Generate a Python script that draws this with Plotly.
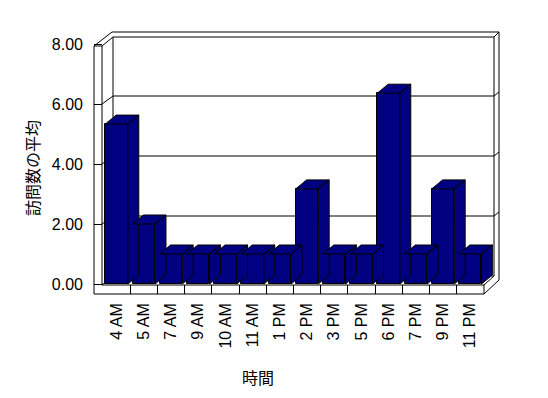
import plotly.graph_objects as go

# ---- data ----
categories = ["4 AM", "5 AM", "7 AM", "9 AM", "10 AM", "11 AM", "1 PM",
              "2 PM", "3 PM", "5 PM", "6 PM", "7 PM", "9 PM", "11 PM"]
values = [5.33, 2.0, 1.0, 1.0, 1.0, 1.0, 1.0, 3.17, 1.0, 1.0, 6.36, 1.0, 3.17, 1.0]
y_ticks = [0, 2, 4, 6, 8]
y_ticklabels = ["0.00", "2.00", "4.00", "6.00", "8.00"]
x_title = "時間"
y_title = "訪問数の平均"

W, H = 548, 398
NAVY = "#000080"

# pixel helpers for the decorative 3D frame (walls / floor)
def px(x):
    return x / W

def py(y):
    return 1 - y / H

# axis geometry
CW = 27.2          # px per category
X0 = 103           # px of category -0.5
YS = 30            # px per value unit
Y0 = 284           # px of value 0
dom_l, dom_r = 94, 510
dom_b, dom_t = 294, 29
xr = [(dom_l - X0) / CW - 0.5, (dom_r - X0) / CW - 0.5]
yr = [(Y0 - dom_b) / YS, (Y0 - dom_t) / YS]

hw = 0.415   # half bar width (category units)
ddx = 0.4    # depth offset x (category units)
ddy = 0.3    # depth offset y (value units)

fig = go.Figure()

# side + top faces of bars (drawn before front faces)
for i, v in enumerate(values):
    xs = [i - hw, i - hw + ddx, i + hw + ddx, i + hw, i - hw, None,
          i + hw, i + hw, i + hw + ddx, i + hw + ddx, i + hw]
    ys = [v, v + ddy, v + ddy, v, v, None,
          0, v, v + ddy, ddy, 0]
    fig.add_trace(go.Scatter(x=xs, y=ys, mode="lines", fill="toself",
                             fillcolor=NAVY, line=dict(color="black", width=1),
                             hoverinfo="skip", showlegend=False))

# front faces
fig.add_trace(go.Bar(x=list(range(len(categories))), y=values, width=2 * hw,
                     marker=dict(color=NAVY, line=dict(color="black", width=1)),
                     showlegend=False))

# ---- decorative frame shapes (pixel based) ----
shapes = []
def line(x0, y0, x1, y1):
    shapes.append(dict(type="line", xref="paper", yref="paper",
                       x0=px(x0), y0=py(y0), x1=px(x1), y1=py(y1),
                       line=dict(color="black", width=1), layer="below"))

BL, BR = 113, 494        # back wall inner left / right x
BR2 = 499
# back wall top slab
line(112, 32, BR2, 32)
line(BL, 37, BR, 37)
line(BR, 37, BR2, 32)
# left wall
line(94, 46, 112, 32)
line(102, 46, BL, 37)
line(94, 46, 102, 46)
line(94, 46, 94, 294)
line(102, 46, 102, 285)
line(BL, 37, BL, 276)
# right edge of back wall
line(BR, 37, BR, 276)
line(BR2, 32, BR2, 280)
# gridlines on back wall and left wall diagonals
for t in y_ticks[1:-1]:
    fy = Y0 - t * YS
    by = fy - 8
    line(BL, by, BR, by)
    line(102, fy, BL, by)
    line(BR, by, BR2, by - 4)
# floor
line(94, 294, 484, 294)
line(102, 285, 484, 285)
line(484, 285, 484, 294)
line(484, 294, BR2, 280)
line(484, 285, BR, 276)
line(BL, 276, BR, 276)
line(102, 285, BL, 276)

fig.update_layout(
    width=W, height=H,
    margin=dict(l=0, r=0, t=0, b=0),
    paper_bgcolor="white", plot_bgcolor="rgba(0,0,0,0)",
    shapes=shapes,
    bargap=0,
    xaxis=dict(domain=[px(dom_l), px(dom_r)], range=xr,
               tickmode="array", tickvals=list(range(len(categories))),
               ticktext=categories, tickangle=-90, ticks="",
               showgrid=False, zeroline=False, showline=False,
               ticklabelstandoff=5,
               tickfont=dict(family="Liberation Sans", size=16, color="black"),
               minor=dict(tickvals=[k - 0.5 for k in range(1, len(categories))],
                          ticks="inside", ticklen=9, tickcolor="black", tickwidth=1,
                          showgrid=False)),
    yaxis=dict(domain=[py(dom_b), py(dom_t)], range=yr,
               tickmode="array", tickvals=y_ticks, ticktext=y_ticklabels,
               ticks="inside", ticklen=8, tickcolor="black", tickwidth=1,
               showgrid=False, zeroline=False, showline=False,
               ticklabelstandoff=10,
               tickfont=dict(family="Liberation Sans", size=16, color="black")),
    annotations=[
        dict(text=x_title, xref="paper", yref="paper", x=px(258), y=py(377),
             showarrow=False, xanchor="center", yanchor="middle",
             font=dict(family="Noto Sans CJK JP", size=16, color="black")),
        dict(text=y_title, xref="paper", yref="paper", x=px(32), y=py(168),
             showarrow=False, xanchor="center", yanchor="middle", textangle=-90,
             font=dict(family="Noto Sans CJK JP", size=16, color="black")),
    ],
)

fig.write_html("out.html")
